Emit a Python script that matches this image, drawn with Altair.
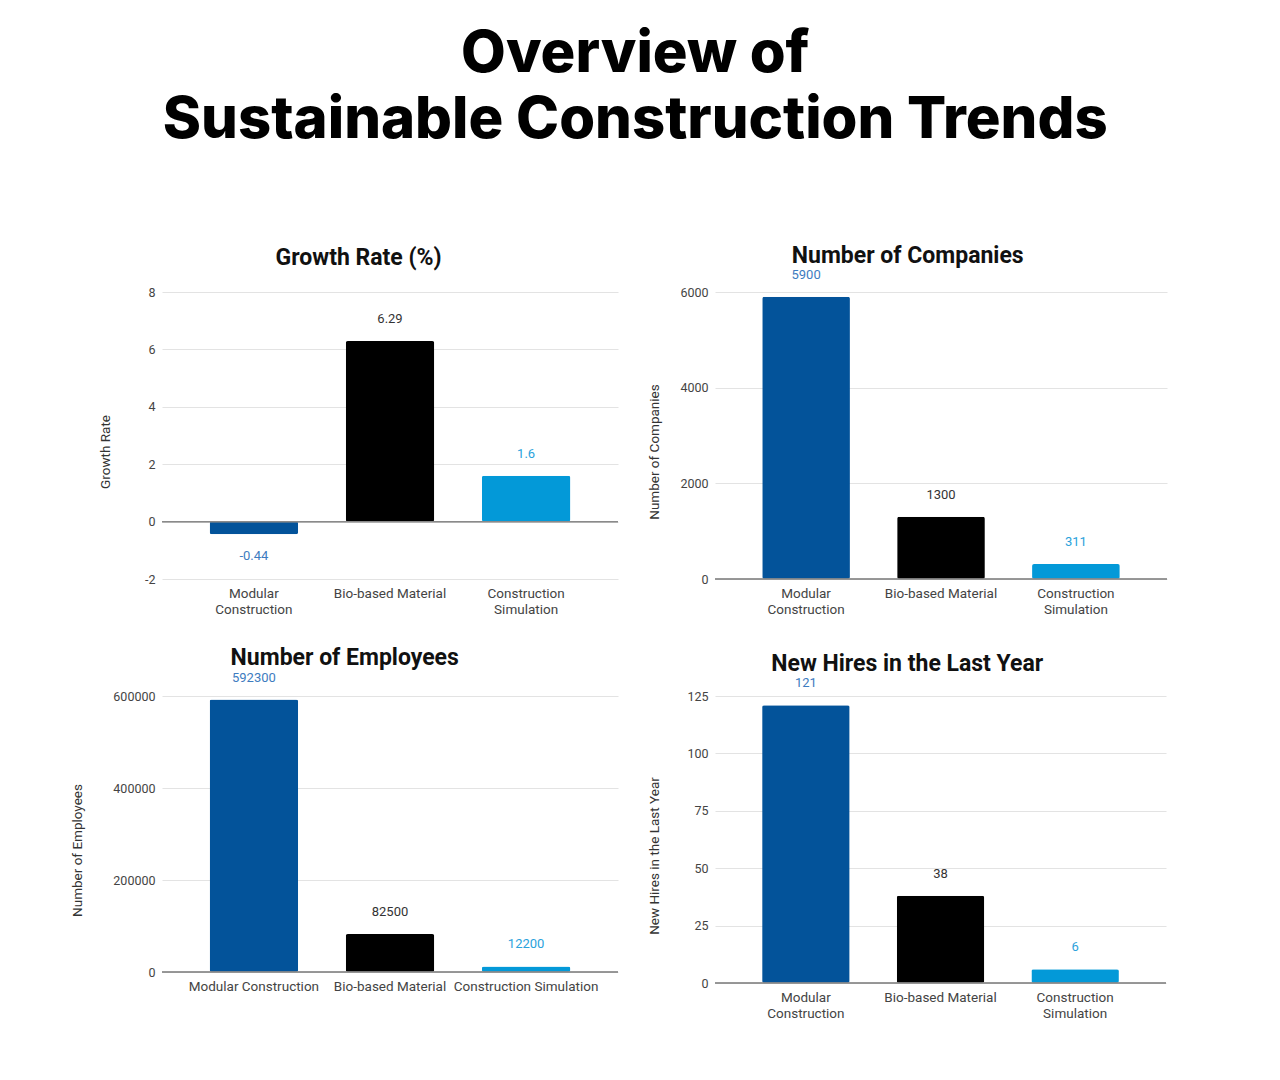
import altair as alt
import pandas as pd

categories = ["Modular Construction", "Bio-based Material", "Construction Simulation"]
growth_rate = [-0.44, 6.29, 1.6]
num_companies = [5900, 1300, 311]
num_employees = [592300, 82500, 12200]
new_hires = [121, 38, 6]

growth_ticks = [-2, 0, 2, 4, 6, 8]
company_ticks = [0, 2000, 4000, 6000]
employee_ticks = [0, 200000, 400000, 600000]
hires_ticks = [0, 25, 50, 75, 100, 125]

bar_colors = ["#03539a", "#000000", "#0399d8"]
label_colors = ["#3d7cc0", "#333333", "#2aa2dc"]

FONT = "Roboto"
WRAP = "datum.label == 'Bio-based Material' ? datum.label : split(datum.label, ' ')"


def panel(values, title, ytitle, domain, ticks, width, height, wrap, title_pad, title_offset):
    df = pd.DataFrame({"cat": categories, "v": values})
    base = alt.Chart(df).transform_calculate(lbl="toString(datum.v)")
    xaxis = dict(domain=False, ticks=False, labelAngle=0, labelFont=FONT, labelFontSize=13.5,
                 labelColor="#444444", labelPadding=7, labelLineHeight=16, labelLimit=0)
    if wrap:
        xaxis["labelExpr"] = WRAP
    x = alt.X("cat:N", sort=categories, title=None,
              scale=alt.Scale(paddingInner=0.35, paddingOuter=0.35),
              axis=alt.Axis(**xaxis))
    y = alt.Y("v:Q", title=ytitle,
              scale=alt.Scale(domain=domain, nice=False, zero=True),
              axis=alt.Axis(values=ticks, labelExpr="toString(datum.value)", domain=False,
                            ticks=False, grid=True, gridColor="#e3e3e3", labelFont=FONT,
                            labelFontSize=12.5, labelColor="#444444", labelPadding=7,
                            titleFont=FONT, titleFontSize=13.5, titleFontWeight="normal",
                            titleColor="#333333", titlePadding=title_pad,
                            titleY=height / 2 + 16))
    bars = base.mark_bar(cornerRadius=2).encode(
        x=x, y=y,
        color=alt.Color("cat:N", scale=alt.Scale(domain=categories, range=bar_colors), legend=None),
    )
    zero = base.mark_rule(color="#8a8a8a", strokeWidth=1.2).encode(y=alt.datum(0))
    tcolor = alt.Color("cat:N", scale=alt.Scale(domain=categories, range=label_colors), legend=None)
    above = base.transform_filter("datum.v >= 0").mark_text(
        dy=-22, font=FONT, fontSize=13).encode(x=x, y=y, text=alt.Text("lbl:N"), color=tcolor)
    below = base.transform_filter("datum.v < 0").mark_text(
        dy=22, font=FONT, fontSize=13).encode(x=x, y=y, text=alt.Text("lbl:N"), color=tcolor)
    return alt.layer(bars, zero, above, below).resolve_scale(color="independent").properties(
        width=width, height=height,
        title=alt.TitleParams(title, font=FONT, fontSize=23, fontWeight="bold", color="#111111",
                              anchor="middle", frame="bounds", baseline="alphabetic",
                              offset=title_offset),
    )


p1 = panel(growth_rate, "Growth Rate (%)", "Growth Rate", [-2, 8], growth_ticks, 456, 287, True, 32, -1.5)
p2 = panel(num_companies, "Number of Companies", "Number of Companies", [0, 6000], company_ticks, 452, 287, True, 18, -17.5)
p3 = panel(num_employees, "Number of Employees", "Number of Employees", [0, 600000], employee_ticks, 456, 276, False, 28, -16)
p4 = panel(new_hires, "New Hires in the Last Year", "New Hires in the Last Year", [0, 125], hires_ticks, 451, 287, True, 25, -17)

chart = alt.concat(p1, p2, p3, p4, columns=2, spacing={"row": 117, "column": 97}, bounds="flush").properties(
    title=alt.TitleParams(["Overview of", "Sustainable Construction Trends"], font="Inter",
                          fontSize=58, fontWeight=800, lineHeight=66, color="#000000",
                          anchor="middle", baseline="top", dx=16, offset=95),
    padding={"left": 62, "top": 18, "right": 5, "bottom": 5},
    background="white",
).configure_view(stroke=None)

chart.save("out.html", embed_options={"renderer": "svg", "actions": False})
